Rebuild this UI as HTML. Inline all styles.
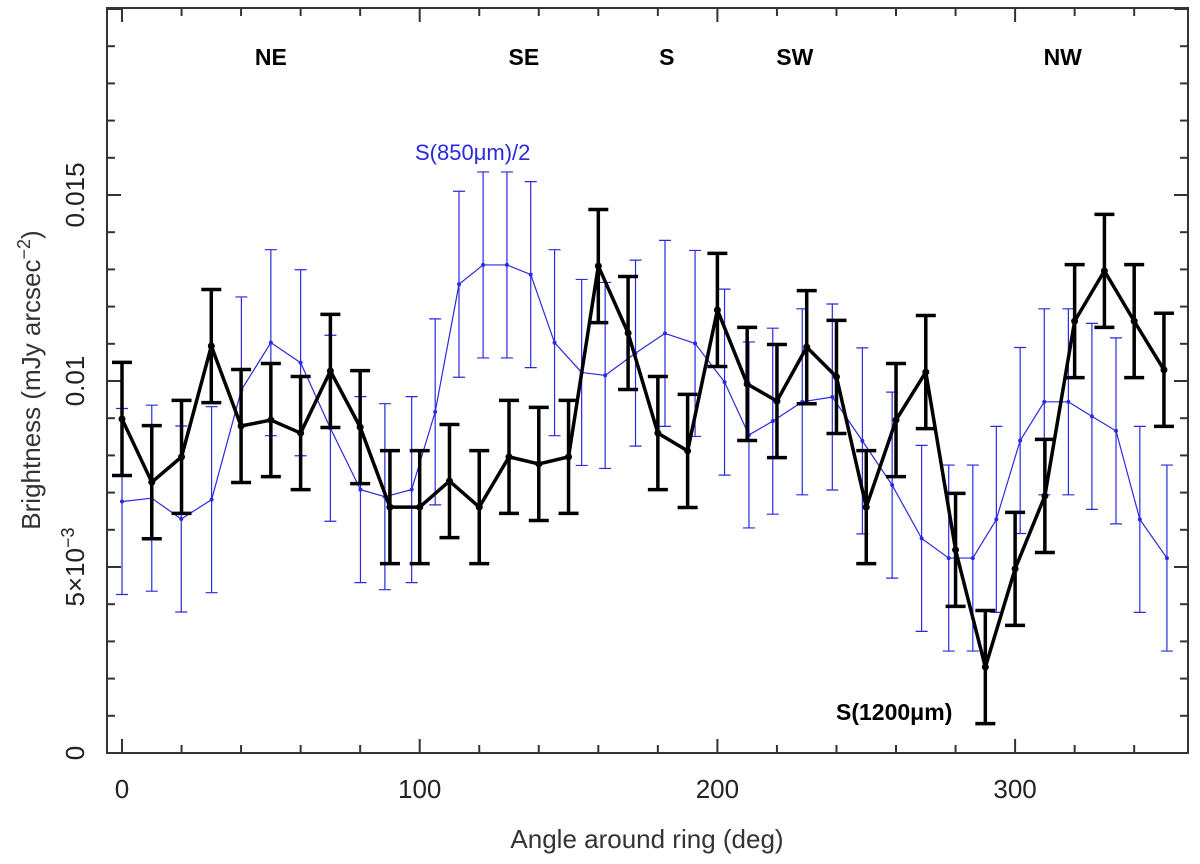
<!DOCTYPE html>
<html><head><meta charset="utf-8"><style>
html,body{margin:0;padding:0;background:#fff;}
svg{display:block;font-family:"Liberation Sans","DejaVu Sans",sans-serif;}
</style></head><body>
<svg id="chart" width="1200" height="864" viewBox="0 0 1200 864">
<g id="axes"></g>
<g id="blue"></g>
<g id="black"></g>
<g id="labels"></g>
</svg>
<script>
// ---- data ----
const blackAngles = [0,10,20,30,40,50,60,70,80,90,100,110,120,130,140,150,160,170,180,190,200,210,220,230,240,250,260,270,280,290,300,310,320,330,340,350];
const blackValues = [0.00898,0.00728,0.00796,0.01094,0.00879,0.00895,0.0086,0.01027,0.00876,0.00661,0.00661,0.00731,0.00661,0.00796,0.00777,0.00796,0.01309,0.01129,0.0086,0.00812,0.01191,0.00992,0.00946,0.01091,0.01011,0.00661,0.00895,0.01024,0.00546,0.00231,0.00495,0.00691,0.01161,0.01296,0.01161,0.0103];
const blackErr = 0.00152;
const blueAngles = [0,10,19.9,30.1,40.1,50,60,70,80.1,88.3,97.3,105.2,113.2,121.3,129.3,137.3,145.3,154.4,162.3,172.5,182.4,192.5,202.4,210.6,218.6,228.5,238.6,248.7,258.7,268.6,277.7,285.8,293.7,301.7,309.8,317.9,325.8,333.9,341.9,351];
const blueValues = [0.00676,0.00685,0.00629,0.00681,0.00976,0.01103,0.01049,0.00873,0.00708,0.00689,0.00708,0.00917,0.0126,0.01312,0.01312,0.01286,0.01103,0.01023,0.01015,0.01075,0.01128,0.01101,0.00997,0.00855,0.00892,0.00944,0.00957,0.00839,0.0072,0.00577,0.00524,0.00524,0.00628,0.0084,0.00944,0.00944,0.00905,0.00866,0.00628,0.00524];
const blueErr = 0.0025;
const xTickLabels = [0,100,200,300];
const yTickValues = [0,0.005,0.01,0.015];
const yTickLabels = ["0","5×10","0.01","0.015"];
const regionNames = ["NE","SE","S","SW","NW"];
const regionAngles = [50,135,183,226,316];

// ---- scales ----
const L=107,R=1188,T=8,B=753;
const X = a => 122 + a*2.977;
const Y = v => 753 - v*37200;
const NS="http://www.w3.org/2000/svg";
function mk(tag, parent, attrs){const e=document.createElementNS(NS,tag);for(const k in attrs)e.setAttribute(k,attrs[k]);parent.appendChild(e);return e;}

const axes=document.getElementById('axes');
const fr=mk('rect',axes,{x:L,y:T,width:R-L,height:B-T,fill:'none',stroke:'#333','stroke-width':2});


for(let a=0;a<=360;a+=20){
  if(X(a)>R) break;
  const len = a%100===0?14:8;
  const t1=mk('line',axes,{x1:X(a),x2:X(a),y1:B,y2:B-len,stroke:'#333','stroke-width':2});
  
  
  const t2=mk('line',axes,{x1:X(a),x2:X(a),y1:T,y2:T+len,stroke:'#333','stroke-width':2});
  
  
}
for(let i=0;i<=20;i++){
  const v=i*0.001, y=Y(v);
  if(y<T) break;
  const len = i%5===0?14:8;
  const t1=mk('line',axes,{x1:L,x2:L+len,y1:y,y2:y,stroke:'#333','stroke-width':2});
  
  
  const t2=mk('line',axes,{x1:R,x2:R-len,y1:y,y2:y,stroke:'#333','stroke-width':2});
  
  
}
xTickLabels.forEach(a=>{
  const t=mk('text',axes,{x:X(a),y:798,'text-anchor':'middle','font-size':26,fill:'#222'});
  t.textContent=a;
  
  
});
yTickValues.forEach((v,i)=>{
  const t=mk('text',axes,{x:0,y:0,'text-anchor':'middle','font-size':26,fill:'#222',transform:`translate(84,${Y(v)}) rotate(-90)`});
  t.textContent=yTickLabels[i];
  if(i===1){const s=mk('tspan',t,{dy:-10,'font-size':18});s.textContent='−3';}
  
  
});
const xt=mk('text',axes,{x:647,y:848,'text-anchor':'middle','font-size':26,fill:'#333'});
xt.textContent='Angle around ring (deg)';


const yt=mk('text',axes,{x:0,y:0,'text-anchor':'middle','font-size':26,fill:'#333',transform:'translate(40,380) rotate(-90)'});
yt.appendChild(document.createTextNode('Brightness (mJy arcsec'));
const ys=mk('tspan',yt,{dy:-10,'font-size':18});ys.textContent='−2';
const ye=mk('tspan',yt,{dy:10});ye.textContent=')';



function series(gid, angles, values, err, color, lw, ew, cap, r){
  const g=document.getElementById(gid);
  const pts=angles.map((a,i)=>X(a)+','+Y(values[i])).join(' ');
  const pl=mk('polyline',g,{points:pts,fill:'none',stroke:color,'stroke-width':lw,'stroke-linejoin':'round'});
  
  
  angles.forEach((a,i)=>{
    const x=X(a),y1=Y(values[i]+err),y2=Y(values[i]-err);
    const eb=mk('path',g,{d:`M${x},${y1}V${y2}M${x-cap},${y1}H${x+cap}M${x-cap},${y2}H${x+cap}`,stroke:color,'stroke-width':ew,fill:'none'});
    
    
    const c=mk('circle',g,{cx:x,cy:Y(values[i]),r:r,fill:color});
    
    
  });
}
series('blue',blueAngles,blueValues,blueErr,'#2a2ae0',1.2,1.2,6,2);
series('black',blackAngles,blackValues,blackErr,'#000',3.5,3.5,10,3.5);

const lab=document.getElementById('labels');
regionNames.forEach((n,i)=>{
  const t=mk('text',lab,{x:X(regionAngles[i]),y:65,'text-anchor':'middle','font-size':23,'font-weight':'bold',fill:'#000'});
  t.textContent=n;
  
  
});
const bl=mk('text',lab,{x:415,y:160,'font-size':22,fill:'#2a2ae0'});
bl.textContent='S(850μm)/2';


const kl=mk('text',lab,{x:836,y:720,'font-size':23,'font-weight':'bold',fill:'#000'});
kl.textContent='S(1200μm)';


</script>
</body></html>
